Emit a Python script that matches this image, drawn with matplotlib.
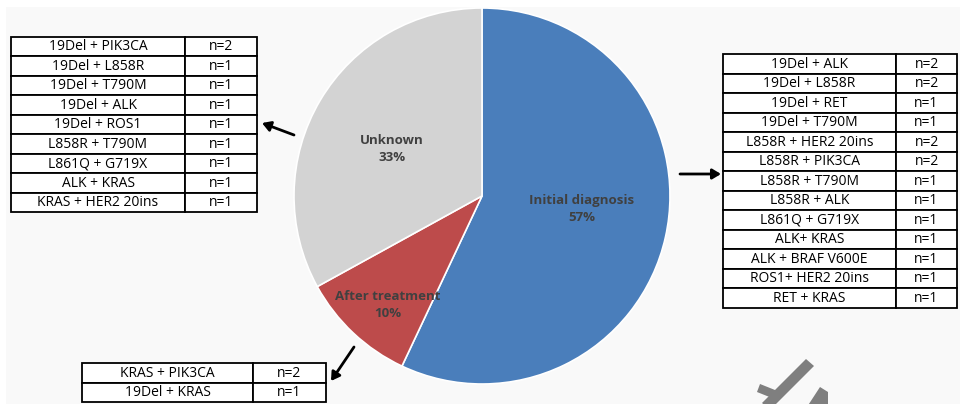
import matplotlib.pyplot as plt
from matplotlib.patches import Rectangle, Polygon

plt.rcParams['font.family'] = ['Open Sans', 'DejaVu Sans']

# pie data
categories = ['Initial diagnosis', 'After treatment', 'Unknown']
shares = [57, 10, 33]
colors = ['#4a7ebb', '#bd4b4b', '#d3d3d3']

# co-mutation tables
unknown_pairs = ['19Del + PIK3CA', '19Del + L858R', '19Del + T790M', '19Del + ALK',
                 '19Del + ROS1', 'L858R + T790M', 'L861Q + G719X', 'ALK + KRAS',
                 'KRAS + HER2 20ins']
unknown_n = [2, 1, 1, 1, 1, 1, 1, 1, 1]

initial_pairs = ['19Del + ALK', '19Del + L858R', '19Del + RET', '19Del + T790M',
                 'L858R + HER2 20ins', 'L858R + PIK3CA', 'L858R + T790M', 'L858R + ALK',
                 'L861Q + G719X', 'ALK+ KRAS', 'ALK + BRAF V600E', 'ROS1+ HER2 20ins',
                 'RET + KRAS']
initial_n = [2, 2, 1, 1, 2, 2, 1, 1, 1, 1, 1, 1, 1]

after_pairs = ['KRAS + PIK3CA', '19Del + KRAS']
after_n = [2, 1]

W, H = 960, 404
fig = plt.figure(figsize=(W / 100, H / 100), dpi=100, facecolor='white')

# background canvas in pixel coordinates
bg = fig.add_axes([0, 0, 1, 1])
bg.set_xlim(0, W)
bg.set_ylim(H, 0)
bg.axis('off')
bg.add_patch(Rectangle((6, 7), W - 6, H - 7, facecolor='#f9f9f9', edgecolor='none'))

# pie
cx, cy, r = 482, 196, 188
pax = fig.add_axes([(cx - r) / W, (H - cy - r) / H, 2 * r / W, 2 * r / H])
wedges, _ = pax.pie(shares, colors=colors, startangle=90, counterclock=False,
                    wedgeprops=dict(edgecolor='white', linewidth=1.2))
pax.set_xlim(-1, 1)
pax.set_ylim(-1, 1)
pax.set_aspect('equal')

label_pos = {'Initial diagnosis': (0.53, -0.07), 'After treatment': (-0.5, -0.58),
             'Unknown': (-0.48, 0.25)}
for name, val in zip(categories, shares):
    x, y = label_pos[name]
    pax.text(x, y, f'{name}\n{val}%', ha='center', va='center', fontsize=9.5,
             fontweight='bold', color='#404040', linespacing=1.45)


def draw_table(x0, y0, xdiv, x1, pairs, counts, rh=19.5):
    for i, (p, n) in enumerate(zip(pairs, counts)):
        y = y0 + i * rh
        bg.add_patch(Rectangle((x0, y), xdiv - x0, rh, facecolor='white',
                               edgecolor='black', linewidth=1.3))
        bg.add_patch(Rectangle((xdiv, y), x1 - xdiv, rh, facecolor='white',
                               edgecolor='black', linewidth=1.3))
        bg.text((x0 + xdiv) / 2, y + rh / 2 + 0.5, p, ha='center', va='center',
                fontsize=10, color='black')
        bg.text((xdiv + x1) / 2, y + rh / 2 + 0.5, f'n={n}', ha='center', va='center',
                fontsize=10, color='black')


draw_table(11, 36.5, 185, 257, unknown_pairs, unknown_n)
draw_table(723, 54, 896, 957, initial_pairs, initial_n)
draw_table(82, 363, 253, 326, after_pairs, after_n)

arrow = dict(arrowstyle='-|>,head_length=0.5,head_width=0.3', color='black', lw=2,
             shrinkA=0, shrinkB=0)
bg.annotate('', xy=(262, 123), xytext=(294, 135), arrowprops=arrow)
bg.annotate('', xy=(721, 174), xytext=(680, 174), arrowprops=arrow)
bg.annotate('', xy=(331, 381), xytext=(354, 347), arrowprops=arrow)

# watermark fragment, bottom right
bg.add_patch(Polygon([(806, 359), (814, 366), (770, 410), (762, 403)],
                     closed=True, facecolor='#7f7f7f', edgecolor='none'))
bg.add_patch(Polygon([(760, 384), (780, 392), (777, 400), (757, 392)],
                     closed=True, facecolor='#7f7f7f', edgecolor='none'))
bg.add_patch(Polygon([(820, 387), (828, 392), (828, 410), (805, 410)],
                     closed=True, facecolor='#7f7f7f', edgecolor='none'))

fig.savefig('out.png', dpi=100, facecolor='white')
